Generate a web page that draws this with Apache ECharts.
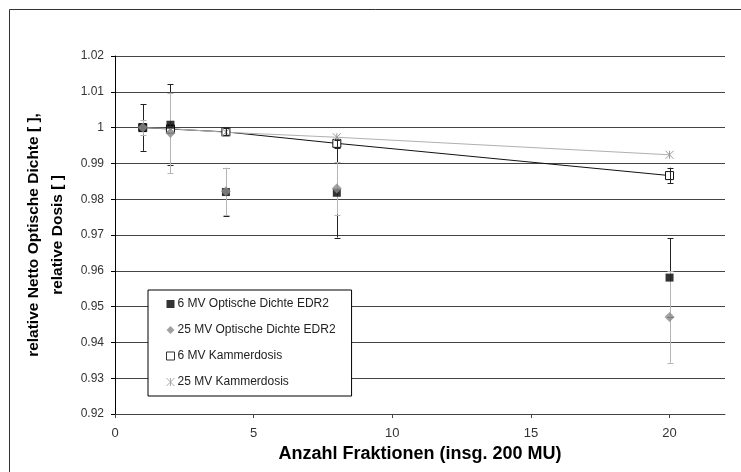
<!DOCTYPE html>
<html>
<head>
<meta charset="utf-8">
<script src="https://cdn.jsdelivr.net/npm/echarts@6/dist/echarts.min.js"></script>
<style>
html,body{margin:0;padding:0;background:#fff;}
#chart{width:741px;height:472px;}
</style>
</head>
<body>
<div id="chart"></div>
<script>
// ---- data ----
const xs = [1, 2, 4, 8, 20];
const seriesNames = ['6 MV Optische Dichte EDR2', '25 MV Optische Dichte EDR2', '6 MV Kammerdosis', '25 MV Kammerdosis'];
const od6 = [1.000, 1.0008, 0.9820, 0.9818, 0.9581];
const od6Err = [0.0065, 0.0113, 0.0066, 0.0125, 0.0110];
const od25 = [1.000, 0.9985, 0.9822, 0.9830, 0.9471];
const od25Err = [0.0020, 0.0113, 0.0066, 0.0073, 0.0128];
const k6 = [1.000, 0.9996, 0.9988, 0.9956, 0.9866];
const k6Err = [0.0010, 0.0010, 0.0010, 0.0010, 0.0022];
const k25 = [1.000, 0.9997, 0.9987, 0.9973, 0.9924];
const yTicks = [0.92, 0.93, 0.94, 0.95, 0.96, 0.97, 0.98, 0.99, 1, 1.01, 1.02];
const xTicks = [0, 5, 10, 15, 20];
const xTitle = 'Anzahl Fraktionen (insg. 200 MU)';
const yTitle = 'relative Netto Optische Dichte [ ],\nrelative Dosis [ ]';

const FONT = '"Liberation Sans", Arial, sans-serif';
const pts = (vals) => xs.map((x, i) => [x, vals[i]]);
const errs = (vals, e) => xs.map((x, i) => [x, vals[i] - e[i], vals[i] + e[i]]);

function errRender(color) {
  return function (params, api) {
    const x = api.value(0);
    const lo = api.coord([x, api.value(1)]);
    const hi = api.coord([x, api.value(2)]);
    const cap = 3;
    const st = { stroke: color, lineWidth: 1 };
    const px = Math.round(lo[0]) + 0.5;
    return {
      type: 'group',
      children: [
        { type: 'line', shape: { x1: px, y1: hi[1], x2: px, y2: lo[1] }, style: st },
        { type: 'line', shape: { x1: px - cap, y1: Math.round(hi[1]) + 0.5, x2: px + cap, y2: Math.round(hi[1]) + 0.5 }, style: st },
        { type: 'line', shape: { x1: px - cap, y1: Math.round(lo[1]) + 0.5, x2: px + cap, y2: Math.round(lo[1]) + 0.5 }, style: st }
      ]
    };
  };
}

const asterisk = 'path://M0,0L10,10M10,0L0,10M5,0L5,10';

const chart = echarts.init(document.getElementById('chart'), null, { renderer: 'canvas' });
chart.setOption({
  animation: false,
  backgroundColor: '#fff',
  textStyle: { fontFamily: FONT },
  graphic: [
    { type: 'rect', z: -10, shape: { x: 9.5, y: 9.5, width: 800, height: 500 }, style: { fill: 'none', stroke: '#333', lineWidth: 1 } }
  ],
  grid: { left: 115, right: 16, top: 56, bottom: 58, containLabel: false },
  xAxis: {
    type: 'value', min: 0, max: 22, interval: 5,
    name: xTitle, nameLocation: 'middle', nameGap: 25,
    nameTextStyle: { fontFamily: FONT, fontSize: 18, fontWeight: 'bold', color: '#000' },
    axisLine: { show: true, onZero: false, lineStyle: { color: '#444', width: 1 } },
    axisTick: { show: true, length: 4, lineStyle: { color: '#444' } },
    axisLabel: {
      showMaxLabel: false, margin: 13, color: '#333', fontSize: 13, fontFamily: FONT,
      formatter: (v) => (xTicks.indexOf(v) >= 0 ? String(v) : '')
    },
    splitLine: { show: false }
  },
  yAxis: {
    type: 'value', min: 0.92, max: 1.02, interval: 0.01,
    name: yTitle, nameLocation: 'middle', nameGap: 44,
    nameTextStyle: { fontFamily: FONT, fontSize: 15.5, fontWeight: 'bold', color: '#000', lineHeight: 24 },
    axisLine: { show: true, lineStyle: { color: '#000', width: 1 } },
    axisTick: { show: true, length: 4, lineStyle: { color: '#000' } },
    axisLabel: {
      margin: 11, color: '#333', fontSize: 12, fontFamily: FONT,
      formatter: (v) => {
        const r = Math.round(v * 100) / 100;
        const t = yTicks.find(k => Math.abs(k - r) < 1e-6);
        return t === undefined ? '' : String(t);
      }
    },
    splitLine: { show: true, lineStyle: { color: '#444', width: 1 } }
  },
  legend: {
    orient: 'vertical', left: 148, top: 290,
    backgroundColor: '#fff', borderColor: '#000', borderWidth: 1,
    padding: [7, 16, 7, 18], itemGap: 12, itemWidth: 8, itemHeight: 8,
    textStyle: { fontFamily: FONT, fontSize: 12, color: '#222', lineHeight: 14, padding: [0, 0, 0, -2] },
    data: [
      { name: seriesNames[0], icon: 'rect', itemStyle: { color: '#000' } },
      { name: seriesNames[1], icon: 'diamond', itemStyle: { color: '#8a8a8a' } },
      { name: seriesNames[2], icon: 'rect', itemStyle: { color: '#fff', borderColor: '#333', borderWidth: 1 } },
      { name: seriesNames[3], icon: asterisk, itemStyle: { color: 'rgba(0,0,0,0)', borderColor: '#aaa', borderWidth: 1 } }
    ],
    z: 10
  },
  series: [
    {
      name: seriesNames[2], type: 'line', data: pts(k6), z: 2,
      symbol: 'rect', symbolSize: 8,
      lineStyle: { color: '#111', width: 1 },
      itemStyle: { color: '#fff', borderColor: '#111', borderWidth: 1 }
    },
    {
      name: seriesNames[3], type: 'line', data: pts(k25), z: 2,
      symbol: asterisk, symbolSize: 8,
      lineStyle: { color: '#b0b0b0', width: 1 },
      itemStyle: { color: 'rgba(0,0,0,0)', borderColor: '#9a9a9a', borderWidth: 1 }
    },
    {
      name: seriesNames[2] + ' Fehler', type: 'custom', data: errs(k6, k6Err), z: 3,
      renderItem: errRender('#222'), silent: true
    },
    {
      name: seriesNames[0] + ' Fehler', type: 'custom', data: errs(od6, od6Err), z: 3,
      renderItem: errRender('#222'), silent: true
    },
    {
      name: seriesNames[1] + ' Fehler', type: 'custom', data: errs(od25, od25Err), z: 3,
      renderItem: errRender('#b4b4b4'), silent: true
    },
    {
      name: seriesNames[0], type: 'scatter', data: pts(od6), z: 4,
      symbol: 'rect', symbolSize: 8,
      itemStyle: { color: '#000' }
    },
    {
      name: seriesNames[1], type: 'scatter', data: pts(od25), z: 4,
      symbol: 'diamond', symbolSize: 10,
      itemStyle: { color: '#8a8a8a' }
    }
  ]
});
</script>
</body>
</html>
